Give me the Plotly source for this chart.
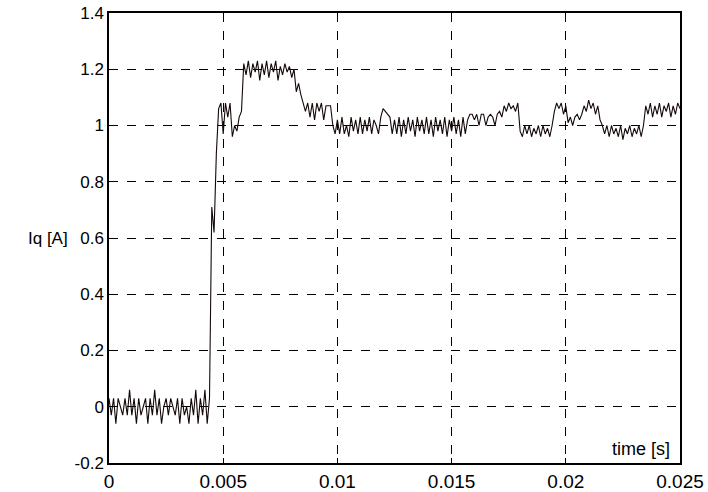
import plotly.graph_objects as go

dt = 1e-4
iq = [
    0.03, -0.03, 0.03, -0.06, 0.03, 0.0, -0.03, 0.03, -0.03, 0.06,
    -0.03, 0.03, -0.06, 0.03, -0.03, 0.0, 0.03, -0.06, 0.03, -0.03,
    0.06, -0.03, 0.03, -0.06, 0.0, 0.03, -0.03, 0.03, 0.0, -0.03,
    0.03, -0.06, 0.03, -0.03, 0.0, -0.06, 0.03, -0.03, 0.06, -0.06,
    0.03, -0.03, 0.06, -0.06, 0.03, 0.71, 0.62, 0.90, 1.06, 1.08,
    0.97, 1.08, 1.03, 1.08, 0.96, 1.00, 0.98, 1.03, 1.05, 1.22,
    1.18, 1.23, 1.17, 1.22, 1.19, 1.23, 1.16, 1.22, 1.18, 1.23,
    1.17, 1.22, 1.19, 1.23, 1.16, 1.21, 1.18, 1.22, 1.19, 1.21,
    1.17, 1.20, 1.12, 1.15, 1.11, 1.08, 1.05, 1.08, 1.03, 1.08,
    1.02, 1.08, 1.05, 1.08, 1.02, 1.07, 1.07, 1.07, 1.00, 0.97,
    1.02, 0.97, 1.03, 0.97, 1.00, 0.96, 1.03, 0.98, 1.02, 0.97,
    1.03, 0.97, 1.02, 0.98, 1.03, 0.97, 1.02, 1.00, 0.97, 1.03,
    1.06, 1.05, 1.04, 1.03, 0.97, 1.02, 0.97, 1.03, 0.96, 1.02,
    0.97, 1.03, 0.98, 1.02, 0.96, 1.03, 0.98, 1.02, 0.97, 1.03,
    0.97, 1.02, 0.96, 1.03, 0.98, 1.02, 0.97, 1.03, 0.96, 1.02,
    0.98, 1.03, 0.97, 1.02, 0.96, 1.03, 0.97, 1.02, 1.04, 1.04,
    1.02, 1.04, 1.00, 1.04, 1.04, 1.00, 1.03, 1.04, 1.03, 1.00,
    1.04, 1.05, 1.03, 1.07, 1.05, 1.08, 1.06, 1.07, 1.05, 1.08,
    0.98, 0.96, 1.00, 0.97, 1.00, 0.96, 0.99, 0.97, 1.00, 0.96,
    1.00, 0.97, 0.99, 0.96, 1.00, 1.05, 1.08, 1.06, 1.08, 1.04,
    1.07, 1.01, 1.03, 1.00, 1.03, 1.04, 1.02, 1.04, 1.07, 1.05,
    1.09, 1.06, 1.08, 1.04, 1.07, 1.02, 1.00, 0.97, 1.00, 0.96,
    1.00, 0.97, 0.99, 0.96, 1.00, 0.95, 0.99, 0.97, 1.00, 0.96,
    0.99, 0.97, 1.00, 0.96, 1.00, 1.07, 1.04, 1.08, 1.03, 1.07,
    1.04, 1.08, 1.03, 1.07, 1.05, 1.08, 1.03, 1.07, 1.04, 1.08, 1.06,
]
time = [round(i * dt, 6) for i in range(len(iq))]

x_ticks = [0, 0.005, 0.01, 0.015, 0.02, 0.025]
x_labels = ["0", "0.005", "0.01", "0.015", "0.02", "0.025"]
y_ticks = [-0.2, 0, 0.2, 0.4, 0.6, 0.8, 1.0, 1.2, 1.4]
y_labels = ["-0.2", "0", "0.2", "0.4", "0.6", "0.8", "1", "1.2", "1.4"]

FONT = "Liberation Sans, Arial"

fig = go.Figure()
fig.add_trace(go.Scatter(x=time, y=iq, mode="lines",
                         line=dict(color="#140808", width=1.1), showlegend=False))

axis_common = dict(showline=True, linecolor="black", linewidth=1.5, mirror=True,
                   showgrid=True, gridcolor="black", gridwidth=1, griddash="dash",
                   zeroline=False, ticks="inside", ticklen=5, tickcolor="black",
                   automargin=False)

fig.update_xaxes(range=[0, 0.025], tickvals=x_ticks, ticktext=x_labels,
                 tickfont=dict(family=FONT, size=19, color="black"), **axis_common)
fig.update_yaxes(range=[-0.2, 1.4], tickvals=y_ticks, ticktext=y_labels,
                 tickfont=dict(family=FONT, size=17, color="black"), **axis_common)

fig.add_annotation(text="Iq [A]", xref="paper", yref="y", x=-0.068, y=0.6,
                   xanchor="right", yanchor="middle", showarrow=False,
                   font=dict(family=FONT, size=17, color="black"))
fig.add_annotation(text="time [s]", xref="x", yref="y", x=0.02465, y=-0.2,
                   xanchor="right", yanchor="bottom", yshift=2, showarrow=False,
                   font=dict(family=FONT, size=18, color="black"))

fig.update_layout(width=708, height=492, plot_bgcolor="white", paper_bgcolor="white",
                  margin=dict(l=109, r=28, t=13, b=29))

fig.write_html("out.html")
